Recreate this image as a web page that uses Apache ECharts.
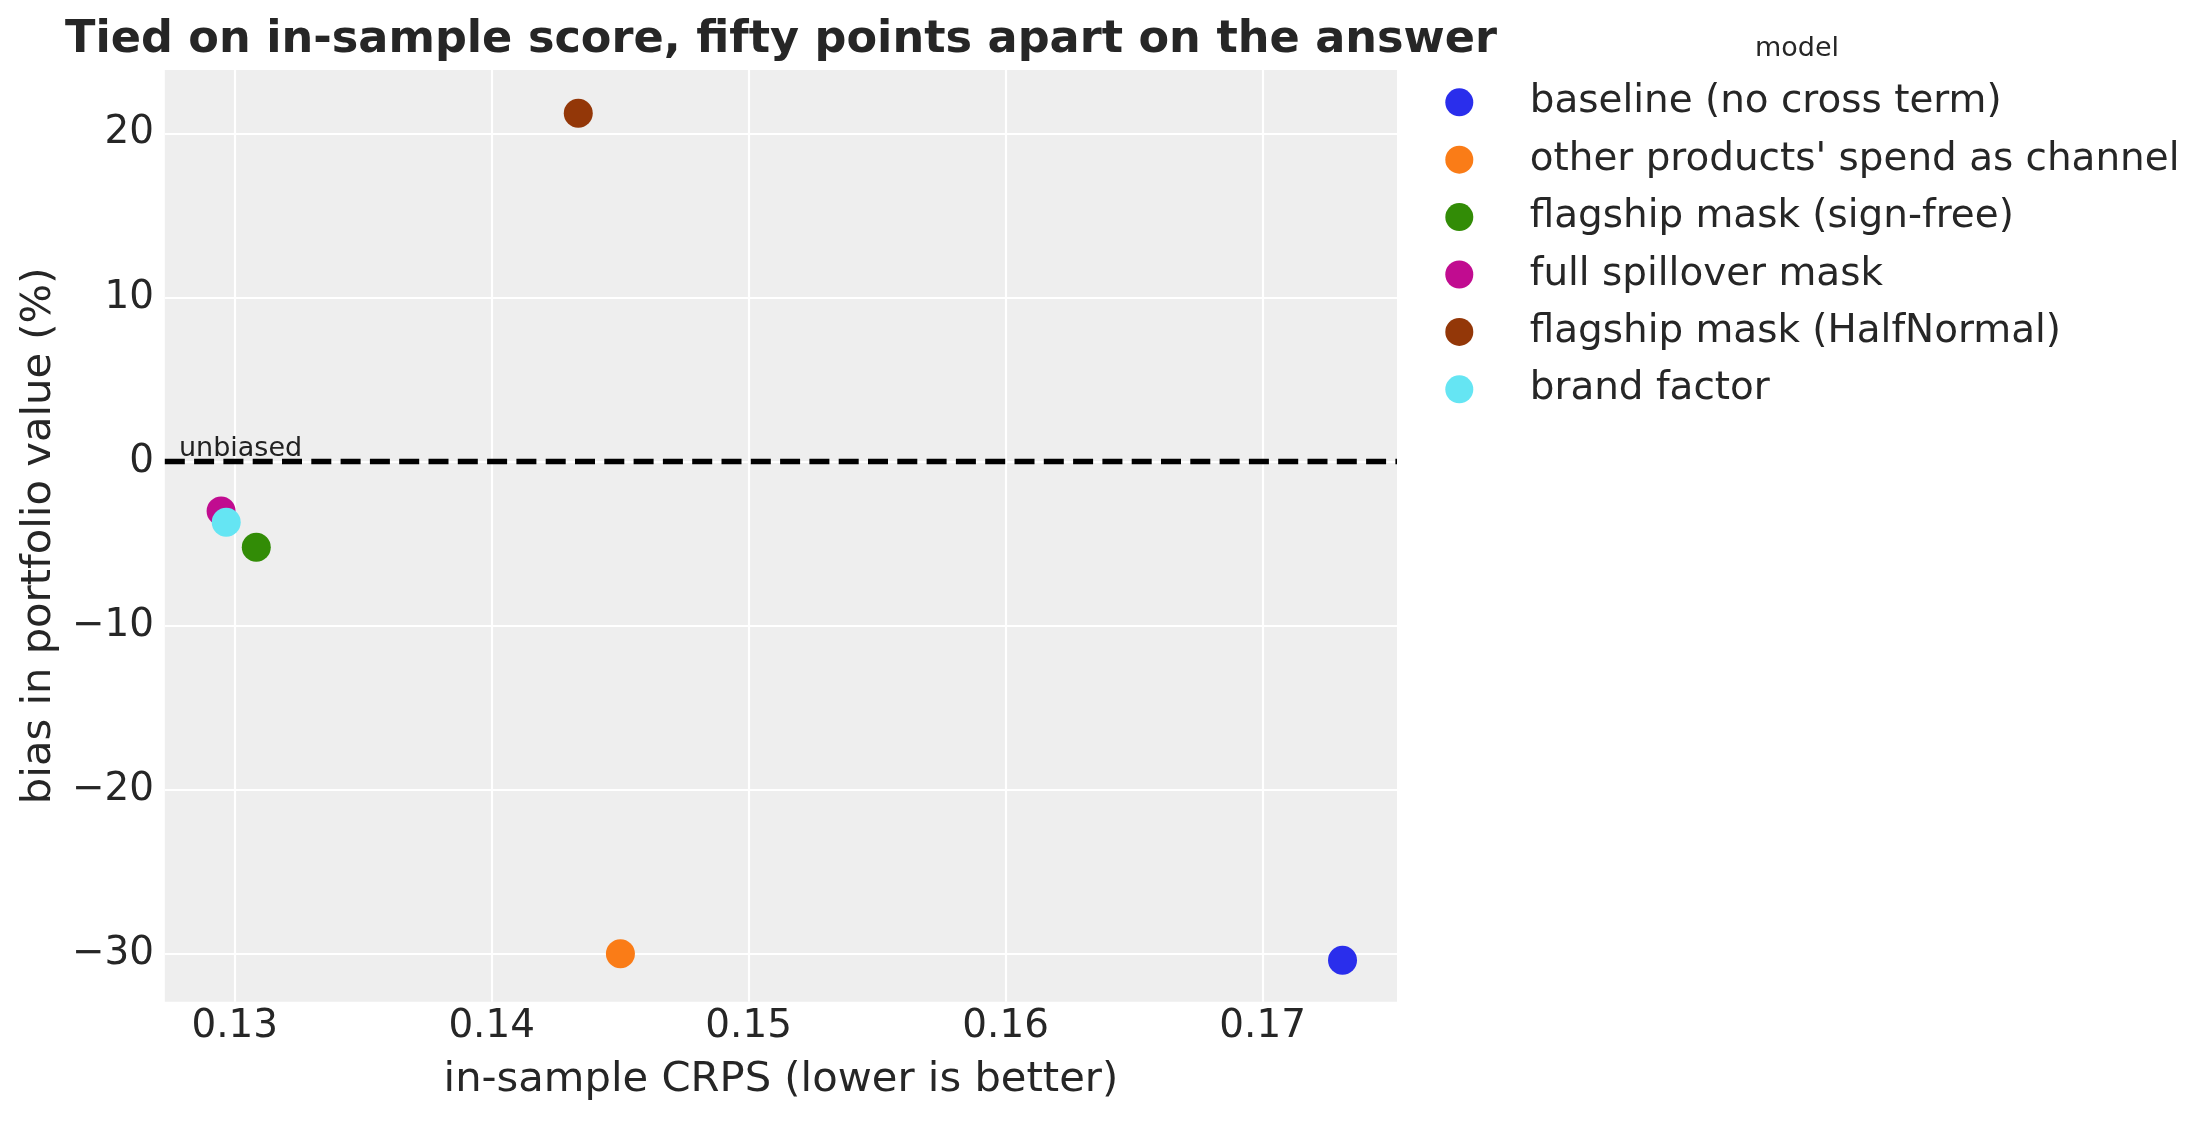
<!DOCTYPE html>
<html>
<head>
<meta charset="utf-8">
<script src="https://cdn.jsdelivr.net/npm/echarts@6/dist/echarts.min.js"></script>
<style>
html,body{margin:0;padding:0;background:#fff;}
#chart{width:2212px;height:1123px;}
</style>
</head>
<body>
<div id="chart"></div>
<script>
const models = [
  "baseline (no cross term)",
  "other products' spend as channel",
  "flagship mask (sign-free)",
  "full spillover mask",
  "flagship mask (HalfNormal)",
  "brand factor"
];
const crps = [0.17311, 0.14501, 0.13084, 0.12947, 0.14337, 0.12967];
const bias = [-30.37, -29.98, -5.21, -3.00, 21.22, -3.69];
const colors = ["#2a2eec", "#fa7c17", "#328c06", "#c10c90", "#933708", "#65e5f3"];
const xTicks = [0.13, 0.14, 0.15, 0.16, 0.17];
const yTicks = [-30, -20, -10, 0, 10, 20];
const refLine = 0;
const refLabel = "unbiased";
const refLabelPos = [0.12783, 0];

const FONT = "DejaVu Sans";
const TXT = "#262626";
const fmtMinus = v => (v < 0 ? "\u2212" + Math.abs(v) : String(v));

const series = models.map((m, i) => ({
  name: m,
  type: "scatter",
  data: [[crps[i], bias[i]]],
  symbol: "circle",
  symbolSize: 29,
  itemStyle: { color: colors[i], opacity: 1 },
  z: 5,
  emphasis: { disabled: true }
}));

series.push({
  name: "_ref",
  type: "scatter",
  data: [refLabelPos],
  symbolSize: 0,
  silent: true,
  z: 4,
  itemStyle: { opacity: 1, color: "#000" },
  emphasis: { disabled: true },
  label: {
    show: true,
    position: [0, 0],
    offset: [0, 1],
    align: "left",
    verticalAlign: "bottom",
    formatter: refLabel,
    fontFamily: FONT,
    fontSize: 27,
    color: "#222222",
    opacity: 1,
    textBorderWidth: 0
  },
  markLine: {
    silent: true,
    symbol: "none",
    label: { show: false },
    lineStyle: { color: "#000", width: 5.3, type: [20, 9.3], opacity: 1 },
    data: [{ yAxis: refLine }],
    z: 3
  }
});

const option = {
  animation: false,
  backgroundColor: "#ffffff",
  title: [
    {
      text: "Tied on in-sample score, fifty points apart on the answer",
      left: 781,
      top: 18,
      padding: 0,
      textAlign: "center",
      textStyle: { fontFamily: FONT, fontSize: 44.6, fontWeight: "bold", color: TXT }
    },
    {
      text: "model",
      left: 1797,
      top: 35,
      padding: 0,
      textAlign: "center",
      textStyle: { fontFamily: FONT, fontSize: 27, fontWeight: "normal", color: TXT }
    }
  ],
  legend: {
    orient: "vertical",
    left: 1445.3,
    top: 82.3,
    padding: 0,
    itemWidth: 28,
    itemHeight: 28,
    itemGap: 17.4,
    icon: "circle",
    data: models,
    selectedMode: false,
    textStyle: {
      fontFamily: FONT,
      fontSize: 38.9,
      lineHeight: 40,
      color: TXT,
      padding: [0, 0, 0, 51.4]
    }
  },
  grid: {
    left: 164.8,
    right: 2212 - 1397,
    top: 70,
    bottom: 1123 - 1001.7,
    show: true,
    backgroundColor: "#eeeeee",
    borderWidth: 0,
    containLabel: false
  },
  xAxis: {
    type: "value",
    min: 0.12728,
    max: 0.17523,
    name: "in-sample CRPS (lower is better)",
    nameLocation: "middle",
    nameGap: 57,
    nameTextStyle: { fontFamily: FONT, fontSize: 41.7, color: TXT },
    axisLine: { show: false },
    axisTick: { show: false, customValues: xTicks },
    axisLabel: {
      customValues: xTicks,
      margin: 6,
      fontFamily: FONT,
      fontSize: 38.9,
      color: TXT,
      formatter: v => v.toFixed(2)
    },
    splitLine: { show: true, lineStyle: { color: "#ffffff", width: 2.2 } }
  },
  yAxis: {
    type: "value",
    min: -32.9,
    max: 23.86,
    name: "bias in portfolio value (%)",
    nameLocation: "middle",
    nameGap: 105,
    nameRotate: 90,
    nameTextStyle: { fontFamily: FONT, fontSize: 41.7, color: TXT },
    axisLine: { show: false },
    axisTick: { show: false, customValues: yTicks },
    axisLabel: {
      customValues: yTicks,
      margin: 10.8,
      fontFamily: FONT,
      fontSize: 38.9,
      color: TXT,
      formatter: fmtMinus
    },
    splitLine: { show: true, lineStyle: { color: "#ffffff", width: 2.2 } }
  },
  series: series
};

const chart = echarts.init(document.getElementById("chart"), null, { renderer: "canvas" });
chart.setOption(option);
</script>
</body>
</html>
